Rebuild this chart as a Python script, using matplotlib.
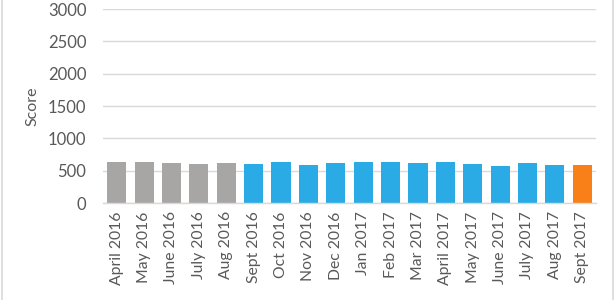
import matplotlib
matplotlib.use("Agg")
import matplotlib.pyplot as plt
from matplotlib.lines import Line2D

plt.rcParams.update({"font.family": ["Lato", "DejaVu Sans"], "font.size": 10})

GREY, BLUE, ORANGE = "#A8A5A5", "#2AABE6", "#F98019"
TEXT, GRID = "#595959", "#D9D9D9"

months = ["April 2016", "May 2016", "June 2016", "July 2016", "Aug 2016",
          "Sept 2016", "Oct 2016", "Nov 2016", "Dec 2016", "Jan 2017",
          "Feb 2017", "Mar 2017", "April 2017", "May 2017", "June 2017",
          "July 2017", "Aug 2017", "Sept 2017"]
scores = [639, 629, 618, 603, 618, 603, 629, 593, 618, 634,
          634, 618, 634, 603, 577, 618, 593, 593]
period = ["prior"] * 5 + ["current"] * 12 + ["latest"]
yticks = [0, 500, 1000, 1500, 2000, 2500, 3000]

colors = {"prior": GREY, "current": BLUE, "latest": ORANGE}

fig = plt.figure(figsize=(6.15, 3.0), dpi=100)
ax = fig.add_axes([0.1675, 0.3233, 0.8015, 0.6467])

x = range(len(months))
ax.bar(x, scores, width=0.7, color=[colors[p] for p in period], zorder=2)

ax.set_ylim(0, 3000)
ax.set_xlim(-0.5, len(months) - 0.5)
ax.set_yticks(yticks)
ax.set_xticks(list(x))
ax.set_xticklabels(months, rotation=90, fontsize=11.3, color=TEXT)
ax.tick_params(axis="y", labelsize=12, labelcolor=TEXT, length=0, pad=12)
ax.tick_params(axis="x", length=0, pad=6)
ax.yaxis.grid(True, color=GRID, lw=1, zorder=0)
for s in ("top", "right", "left"):
    ax.spines[s].set_visible(False)
ax.spines["bottom"].set_color(GRID)
ax.spines["bottom"].set_linewidth(1)
ax.set_ylabel("Score", color=TEXT, fontsize=11.5, labelpad=6)

# light frame edges of the original chart box
for xf in (0.004, 0.996):
    fig.add_artist(Line2D([xf, xf], [0, 1], transform=fig.transFigure,
                          color="#D9D9D9", lw=1.2))

fig.savefig("out.png", dpi=100)
